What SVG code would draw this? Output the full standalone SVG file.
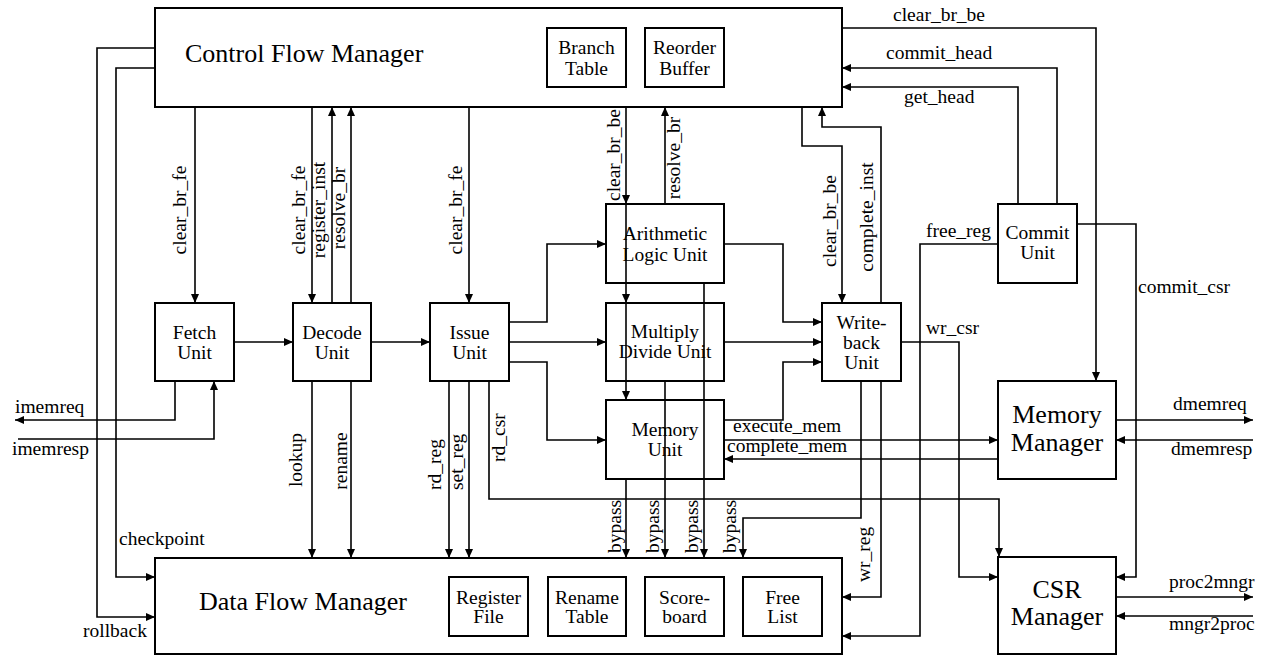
<svg xmlns="http://www.w3.org/2000/svg" width="1265" height="655" viewBox="0 0 1265 655">
<defs>
<marker id="ah" markerUnits="userSpaceOnUse" markerWidth="9" markerHeight="8" refX="9" refY="4" orient="auto">
<path d="M0,0 L9,4 L0,8 z" fill="#000"/>
</marker>
<style>
.box{fill:#fff;stroke:#000;stroke-width:2}
.sub{fill:none;stroke:#000;stroke-width:2}
.t{font-family:"Liberation Serif","Times New Roman",serif;font-size:19.5px;fill:#000}
.c{text-anchor:middle}
.big{font-family:"Liberation Serif","Times New Roman",serif;font-size:26px;fill:#000}
.w{fill:none;stroke:#000;stroke-width:1.6}
.a{marker-end:url(#ah)}
</style>
</defs>
<rect width="1265" height="655" fill="#fff"/>

<g id="control-flow-manager">
<rect class="box" x="155" y="8" width="687" height="99"/>
<text class="big" x="185" y="62">Control Flow Manager</text>
</g>
<g id="branch-table">
<rect class="sub" x="547" y="28" width="79" height="59"/>
<text class="t c" x="586.5" y="54">Branch</text>
<text class="t c" x="586.5" y="75">Table</text>
</g>
<g id="reorder-buffer">
<rect class="sub" x="645" y="28" width="79" height="59"/>
<text class="t c" x="684.5" y="54">Reorder</text>
<text class="t c" x="684.5" y="75">Buffer</text>
</g>

<g id="data-flow-manager">
<rect class="box" x="155" y="558" width="687" height="96"/>
<text class="big" x="199" y="610">Data Flow Manager</text>
</g>
<g id="register-file">
<rect class="sub" x="449" y="577" width="79" height="59"/>
<text class="t c" x="488.5" y="604">Register</text>
<text class="t c" x="488.5" y="623">File</text>
</g>
<g id="rename-table">
<rect class="sub" x="548" y="577" width="78" height="59"/>
<text class="t c" x="587" y="604">Rename</text>
<text class="t c" x="587" y="623">Table</text>
</g>
<g id="scoreboard">
<rect class="sub" x="645" y="577" width="79" height="59"/>
<text class="t c" x="684.5" y="604">Score-</text>
<text class="t c" x="684.5" y="623">board</text>
</g>
<g id="free-list">
<rect class="sub" x="743" y="577" width="79" height="59"/>
<text class="t c" x="782.5" y="604">Free</text>
<text class="t c" x="782.5" y="623">List</text>
</g>

<g id="fetch-unit">
<rect class="box" x="155" y="303" width="79" height="78"/>
<text class="t c" x="194.5" y="339">Fetch</text>
<text class="t c" x="194.5" y="359">Unit</text>
</g>
<g id="decode-unit">
<rect class="box" x="293" y="303" width="78" height="78"/>
<text class="t c" x="332" y="339">Decode</text>
<text class="t c" x="332" y="359">Unit</text>
</g>
<g id="issue-unit">
<rect class="box" x="430" y="303" width="79" height="78"/>
<text class="t c" x="469.5" y="339">Issue</text>
<text class="t c" x="469.5" y="359">Unit</text>
</g>
<g id="alu">
<rect class="box" x="606" y="204" width="118" height="79"/>
<text class="t c" x="665" y="240">Arithmetic</text>
<text class="t c" x="665" y="261">Logic Unit</text>
</g>
<g id="mdu">
<rect class="box" x="606" y="303" width="118" height="78"/>
<text class="t c" x="665" y="338">Multiply</text>
<text class="t c" x="665" y="358">Divide Unit</text>
</g>
<g id="memory-unit">
<rect class="box" x="606" y="400" width="118" height="79"/>
<text class="t c" x="665" y="436">Memory</text>
<text class="t c" x="665" y="456">Unit</text>
</g>
<g id="writeback-unit">
<rect class="box" x="822" y="303" width="79" height="78"/>
<text class="t c" x="861.5" y="329">Write-</text>
<text class="t c" x="861.5" y="349">back</text>
<text class="t c" x="861.5" y="369">Unit</text>
</g>
<g id="commit-unit">
<rect class="box" x="998" y="204" width="79" height="79"/>
<text class="t c" x="1037.5" y="239">Commit</text>
<text class="t c" x="1037.5" y="259">Unit</text>
</g>
<g id="memory-manager">
<rect class="box" x="998" y="381" width="118" height="98"/>
<text class="big c" x="1057" y="423">Memory</text>
<text class="big c" x="1057" y="451">Manager</text>
</g>
<g id="csr-manager">
<rect class="box" x="998" y="557" width="118" height="97"/>
<text class="big c" x="1057" y="598">CSR</text>
<text class="big c" x="1057" y="625">Manager</text>
</g>

<g id="connectors">
<!-- front end -->
<path class="w a" d="M195,107 V303"/>
<path class="w a" d="M312,107 V303"/>
<path class="w a" d="M332,303 V107"/>
<path class="w a" d="M351,303 V107"/>
<path class="w a" d="M469,107 V303"/>
<path class="w a" d="M234,342 H293"/>
<path class="w a" d="M371,342 H430"/>
<path class="w a" d="M175,381 V420 H15"/>
<path class="w a" d="M18,439 H214 V381"/>
<path class="w a" d="M155,68 H116 V577 H155"/>
<path class="w a" d="M155,48 H97 V617 H155"/>
<path class="w a" d="M312,381 V558"/>
<path class="w a" d="M351,381 V558"/>
<path class="w a" d="M449,381 V558"/>
<path class="w a" d="M469,381 V558"/>
<path class="w a" d="M489,381 V499 H999 V557"/>
<!-- issue to execute -->
<path class="w a" d="M509,322 H547 V244 H606"/>
<path class="w a" d="M509,342 H606"/>
<path class="w a" d="M509,362 H547 V440 H606"/>
<!-- clear_br_be / resolve_br -->
<path class="w a" d="M626,107 V204"/>
<path class="w a" d="M626,204 V303"/>
<path class="w a" d="M626,303 V400"/>
<path class="w a" d="M665,204 V107"/>
<!-- bypass -->
<path class="w a" d="M626,479 V558"/>
<path class="w a" d="M665,381 V558"/>
<path class="w a" d="M704,283 V558"/>
<path class="w a" d="M861,381 V518 H743 V558"/>
<!-- execute to writeback -->
<path class="w a" d="M724,244 H783 V322 H822"/>
<path class="w a" d="M724,342 H822"/>
<path class="w a" d="M724,420 H783 V362 H822"/>
<path class="w a" d="M724,440 H998"/>
<path class="w a" d="M998,459 H724"/>
<!-- writeback -->
<path class="w a" d="M802,107 V146 H842 V303"/>
<path class="w a" d="M881,303 V127 H822 V107"/>
<path class="w a" d="M881,381 V597 H842"/>
<path class="w a" d="M901,342 H959 V577 H998"/>
<!-- commit -->
<path class="w a" d="M842,28 H1096 V381"/>
<path class="w a" d="M1057,204 V68 H842"/>
<path class="w a" d="M1018,204 V87 H842"/>
<path class="w a" d="M998,244 H920 V636 H842"/>
<path class="w a" d="M1077,224 H1136 V577 H1116"/>
<!-- external -->
<path class="w a" d="M1116,420 H1253"/>
<path class="w a" d="M1253,440 H1116"/>
<path class="w a" d="M1116,597 H1253"/>
<path class="w a" d="M1253,616 H1116"/>

<!-- labels -->
<text class="t c" transform="rotate(-90 186 210)" x="186" y="210">clear_br_fe</text>
<text class="t c" transform="rotate(-90 305 210)" x="305" y="210">clear_br_fe</text>
<text class="t c" transform="rotate(-90 325 210)" x="325" y="210">register_inst</text>
<text class="t c" transform="rotate(-90 345 208)" x="345" y="208">resolve_br</text>
<text class="t c" transform="rotate(-90 462 210)" x="462" y="210">clear_br_fe</text>
<text class="t c" transform="rotate(-90 620 155)" x="620" y="155">clear_br_be</text>
<text class="t c" transform="rotate(-90 680 158)" x="680" y="158">resolve_br</text>
<text class="t c" transform="rotate(-90 836 221)" x="836" y="221">clear_br_be</text>
<text class="t c" transform="rotate(-90 873 217)" x="873" y="217">complete_inst</text>
<text class="t c" transform="rotate(-90 302 460)" x="302" y="460">lookup</text>
<text class="t c" transform="rotate(-90 347 461)" x="347" y="461">rename</text>
<text class="t" transform="rotate(-90 441 490)" x="441" y="490">rd_reg</text>
<text class="t" transform="rotate(-90 463 490)" x="463" y="490">set_reg</text>
<text class="t" transform="rotate(-90 505 462)" x="505" y="462">rd_csr</text>
<text class="t" transform="rotate(-90 621 553)" x="621" y="553">bypass</text>
<text class="t" transform="rotate(-90 659 553)" x="659" y="553">bypass</text>
<text class="t" transform="rotate(-90 698 553)" x="698" y="553">bypass</text>
<text class="t" transform="rotate(-90 736 553)" x="736" y="553">bypass</text>
<text class="t" transform="rotate(-90 870 582)" x="870" y="582">wr_reg</text>
<text class="t" x="15" y="413">imemreq</text>
<text class="t" x="12" y="455">imemresp</text>
<text class="t" x="119" y="545">checkpoint</text>
<text class="t" x="83" y="637">rollback</text>
<text class="t" x="893" y="21">clear_br_be</text>
<text class="t" x="886" y="59">commit_head</text>
<text class="t" x="904" y="103">get_head</text>
<text class="t" x="926" y="237">free_reg</text>
<text class="t" x="926" y="334">wr_csr</text>
<text class="t" x="1138" y="293">commit_csr</text>
<text class="t" x="733" y="432">execute_mem</text>
<text class="t" x="727" y="452">complete_mem</text>
<text class="t" x="1173" y="410">dmemreq</text>
<text class="t" x="1171" y="455">dmemresp</text>
<text class="t" x="1169" y="588">proc2mngr</text>
<text class="t" x="1169" y="630">mngr2proc</text>
</g>
</svg>
